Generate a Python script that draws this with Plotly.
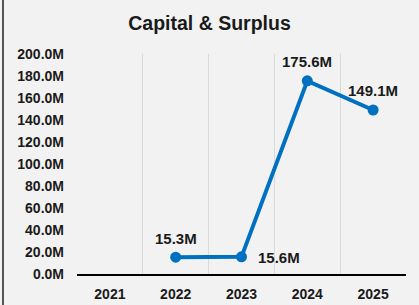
import plotly.graph_objects as go

years = ["2021", "2022", "2023", "2024", "2025"]
values_m = [None, 15.3, 15.6, 175.6, 149.1]
labels = ["", "15.3M", "15.6M", "175.6M", "149.1M"]
label_side = [None, "above", "right", "above", "above"]
y_ticks = [0, 20, 40, 60, 80, 100, 120, 140, 160, 180, 200]
y_tick_text = [f"{v:.1f}M" for v in y_ticks]

FONT = "Liberation Sans, Arial, sans-serif"

fig = go.Figure()
fig.add_trace(go.Scatter(
    x=years, y=values_m,
    mode="lines+markers",
    line=dict(color="#0070C0", width=4),
    marker=dict(color="#0070C0", size=11),
    cliponaxis=False,
    hoverinfo="skip",
))

for i, (y, t, side) in enumerate(zip(values_m, labels, label_side)):
    if y is None:
        continue
    if side == "right":
        fig.add_annotation(x=i, y=y, text=f"<b>{t}</b>", showarrow=False,
                           xanchor="left", yanchor="middle", xshift=14, yshift=-1,
                           font=dict(family=FONT, size=15, color="#1a1a1a"))
    else:
        fig.add_annotation(x=i, y=y, text=f"<b>{t}</b>", showarrow=False,
                           xanchor="center", yanchor="middle", yshift=19,
                           font=dict(family=FONT, size=15, color="#1a1a1a"))

fig.update_layout(
    template="none",
    width=419, height=305,
    margin=dict(l=77, r=13, t=54, b=31, autoexpand=False),
    paper_bgcolor="#F2F2F2",
    plot_bgcolor="#F2F2F2",
    showlegend=False,
    title=dict(text="<b>Capital & Surplus</b>", x=0.5, xanchor="center",
               y=1 - 23 / 305, yanchor="middle",
               font=dict(family=FONT, size=19.5, color="#1a1a1a")),
    xaxis=dict(
        type="category",
        automargin=False,
        tickson="boundaries",
        showgrid=True, gridcolor="#D9D9D9", gridwidth=1,
        showline=True, linecolor="#000000", linewidth=1.5,
        ticks="", ticklabelstandoff=6,
        tickfont=dict(family=FONT, size=14, color="#1a1a1a", weight="bold"),
        range=[-0.5, 4.5],
    ),
    yaxis=dict(
        automargin=False,
        range=[0, 200],
        tickvals=y_ticks, ticktext=y_tick_text,
        showgrid=False, zeroline=False, showline=False,
        ticks="", ticklabelstandoff=12,
        tickfont=dict(family=FONT, size=14, color="#1a1a1a", weight="bold"),
    ),
    shapes=[dict(type="line", xref="paper", yref="paper",
                 x0=-74 / 329, x1=-74 / 329, y0=-31 / 220, y1=54 / 220 + 1,
                 line=dict(color="#555555", width=2))],
)

fig.write_html("out.html",
               config={"displayModeBar": False},
               post_script="document.body.style.margin='0';document.body.style.overflow='hidden';")
